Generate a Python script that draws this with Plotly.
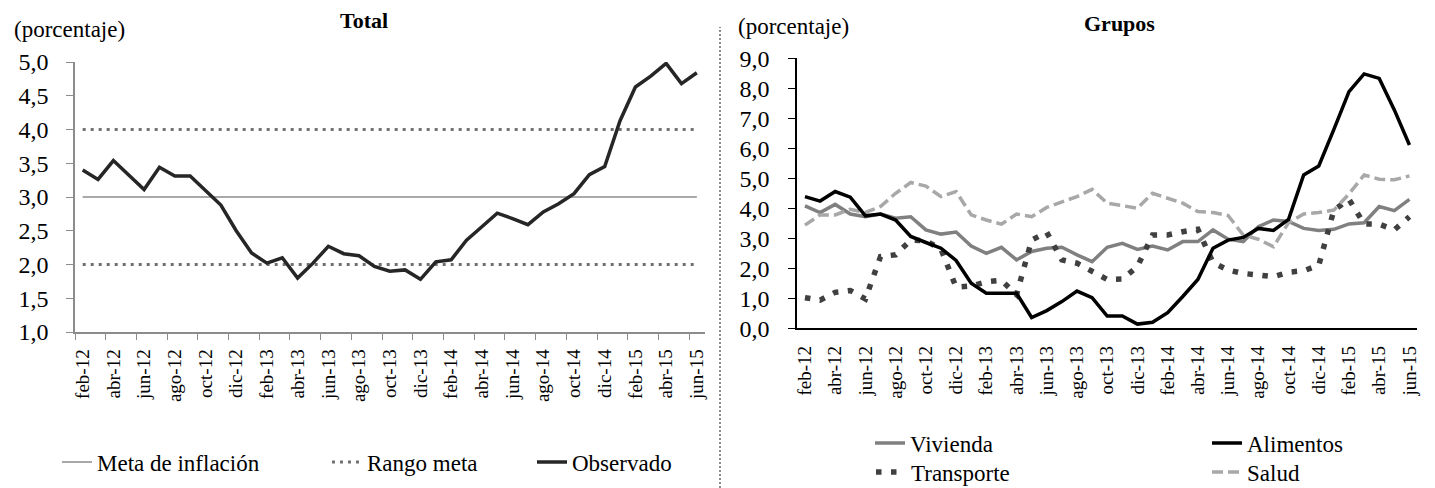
import plotly.graph_objects as go

# categorias (meses)
meses = ["feb-12", "mar-12", "abr-12", "may-12", "jun-12", "jul-12", "ago-12", "sep-12",
         "oct-12", "nov-12", "dic-12", "ene-13", "feb-13", "mar-13", "abr-13", "may-13",
         "jun-13", "jul-13", "ago-13", "sep-13", "oct-13", "nov-13", "dic-13", "ene-14",
         "feb-14", "mar-14", "abr-14", "may-14", "jun-14", "jul-14", "ago-14", "sep-14",
         "oct-14", "nov-14", "dic-14", "ene-15", "feb-15", "mar-15", "abr-15", "may-15",
         "jun-15"]

# Total
observado = [3.40, 3.26, 3.54, 3.33, 3.11, 3.44, 3.31, 3.31, 3.10, 2.88, 2.50, 2.17, 2.02,
             2.10, 1.80, 2.02, 2.27, 2.16, 2.13, 1.97, 1.90, 1.92, 1.78, 2.04, 2.07, 2.36,
             2.56, 2.76, 2.68, 2.59, 2.78, 2.90, 3.05, 3.33, 3.45, 4.13, 4.63, 4.79, 4.98,
             4.68, 4.84]
meta = 3.0
rango_inf = 2.0
rango_sup = 4.0

# Grupos
vivienda = [4.08, 3.86, 4.13, 3.81, 3.72, 3.81, 3.67, 3.72, 3.28, 3.14, 3.21, 2.74, 2.50,
            2.70, 2.28, 2.56, 2.67, 2.70, 2.45, 2.22, 2.70, 2.83, 2.63, 2.74, 2.61, 2.89,
            2.89, 3.28, 2.97, 2.89, 3.39, 3.61, 3.56, 3.33, 3.26, 3.30, 3.48, 3.52, 4.06,
            3.92, 4.30]
alimentos = [4.39, 4.24, 4.56, 4.37, 3.75, 3.81, 3.61, 3.06, 2.86, 2.67, 2.26, 1.50, 1.17,
             1.17, 1.17, 0.36, 0.59, 0.89, 1.24, 1.02, 0.41, 0.41, 0.14, 0.20, 0.52, 1.06,
             1.63, 2.67, 2.94, 3.03, 3.33, 3.26, 3.63, 5.11, 5.41, 6.63, 7.89, 8.48, 8.33,
             7.28, 6.11]
transporte = [1.02, 0.94, 1.20, 1.26, 0.98, 2.39, 2.45, 2.94, 2.92, 2.64, 1.37, 1.41, 1.55,
              1.60, 1.12, 2.94, 3.20, 2.28, 2.17, 1.89, 1.63, 1.64, 2.06, 3.11, 3.11, 3.22,
              3.30, 2.19, 1.94, 1.83, 1.78, 1.72, 1.87, 1.92, 2.10, 3.94, 4.30, 3.48, 3.47,
              3.28, 3.72]
salud = [3.44, 3.78, 3.78, 3.97, 3.86, 4.06, 4.50, 4.86, 4.74, 4.39, 4.56, 3.78, 3.61,
         3.47, 3.81, 3.72, 4.03, 4.20, 4.39, 4.63, 4.17, 4.09, 4.00, 4.50, 4.33, 4.17,
         3.89, 3.86, 3.76, 3.11, 2.97, 2.72, 3.52, 3.81, 3.86, 3.94, 4.48, 5.11, 4.97,
         4.95, 5.08]

# the page body has an 8px margin, so the figure is a bit smaller than the window
OFF = 8
W, H = 1435 - OFF, 488 - OFF
FONT = "Liberation Serif, 'DejaVu Serif', 'Times New Roman', serif"
n = len(meses)


def px(x):
    return (x - OFF) / W


def py(y):
    return 1 - (y - OFF) / H


fig = go.Figure()

# --- panel izquierdo ---
fig.add_trace(go.Scatter(x=meses, y=[meta] * n, mode="lines", name="Meta de inflación",
                         line=dict(color="#8c8c8c", width=1.5), legend="legend",
                         xaxis="x", yaxis="y"))
fig.add_trace(go.Scatter(x=meses, y=[rango_sup] * n, mode="lines", name="Rango meta",
                         line=dict(color="#707070", width=3, dash="3px,5px"),
                         legend="legend2", legendgroup="rango", xaxis="x", yaxis="y"))
fig.add_trace(go.Scatter(x=meses, y=[rango_inf] * n, mode="lines", name="Rango meta",
                         line=dict(color="#707070", width=3, dash="3px,5px"),
                         legend="legend2", legendgroup="rango", showlegend=False,
                         xaxis="x", yaxis="y"))
fig.add_trace(go.Scatter(x=meses, y=observado, mode="lines", name="Observado",
                         line=dict(color="#262626", width=3.5), legend="legend3",
                         xaxis="x", yaxis="y"))

# --- panel derecho ---
fig.add_trace(go.Scatter(x=meses, y=vivienda, mode="lines", name="Vivienda",
                         line=dict(color="#808080", width=3.5), legend="legend4",
                         xaxis="x2", yaxis="y2"))
fig.add_trace(go.Scatter(x=meses, y=transporte, mode="lines", name="Transporte",
                         line=dict(color="#404040", width=5.5, dash="5.5px,9.5px"),
                         legend="legend6", xaxis="x2", yaxis="y2"))
fig.add_trace(go.Scatter(x=meses, y=salud, mode="lines", name="Salud",
                         line=dict(color="#a8a8a8", width=3.5, dash="11px,5px"),
                         legend="legend7", xaxis="x2", yaxis="y2"))
fig.add_trace(go.Scatter(x=meses, y=alimentos, mode="lines", name="Alimentos",
                         line=dict(color="#000000", width=3.5), legend="legend5",
                         xaxis="x2", yaxis="y2"))


def leg(x_text, y_px):
    return dict(x=px(x_text - 40), y=py(y_px), xanchor="left", yanchor="middle",
                orientation="h", bgcolor="rgba(0,0,0,0)", borderwidth=0,
                font=dict(family=FONT, size=23, color="black"))


xcommon = dict(type="category", categoryorder="array", categoryarray=meses,
               range=[-0.5, n - 0.5], tickmode="linear", tick0=0, dtick=2,
               tickangle=-90, tickfont=dict(family=FONT, size=19, color="black"),
               showgrid=False, zeroline=False, showline=True, automargin=False)
ycommon = dict(showgrid=False, zeroline=False, showline=True, ticks="outside", ticklen=7,
               tickformat=".1f", tickfont=dict(family=FONT, size=24, color="black"),
               automargin=False)

fig.update_layout(
    width=W, height=H,
    margin=dict(l=0, r=0, t=0, b=0, autoexpand=False),
    paper_bgcolor="white", plot_bgcolor="white",
    separators=",.",
    font=dict(family=FONT, color="black"),
    xaxis=dict(xcommon, domain=[px(75), px(704.5)], anchor="y",
               linecolor="#8c8c8c", linewidth=1.5, ticks="outside", ticklen=6,
               tickcolor="#8c8c8c", tickson="boundaries", ticklabelstandoff=8),
    yaxis=dict(ycommon, domain=[py(332), py(62)], anchor="x", range=[1, 5],
               dtick=0.5, linecolor="#8c8c8c", linewidth=1.5, tickcolor="#8c8c8c",
               ticklabelstandoff=13),
    xaxis2=dict(xcommon, domain=[px(797.4), px(1417)], anchor="y2",
                linecolor="black", linewidth=2, ticks="", ticklabelstandoff=8),
    yaxis2=dict(ycommon, domain=[py(328.3), py(58.3)], anchor="x2", range=[0, 9],
                dtick=1, linecolor="black", linewidth=2, tickcolor="black",
                ticklabelstandoff=14),
    legend=leg(97, 462),
    legend2=leg(367, 462),
    legend3=leg(572, 462),
    legend4=leg(910, 443),
    legend5=leg(1247, 443),
    legend6=leg(911, 472),
    legend7=leg(1247, 472),
    showlegend=True,
)

ann_font = dict(family=FONT, size=23, color="black")
fig.add_annotation(text="(porcentaje)", x=px(12), y=py(30), xref="paper", yref="paper",
                   xanchor="left", yanchor="middle", showarrow=False, font=ann_font)
fig.add_annotation(text="(porcentaje)", x=px(736), y=py(27), xref="paper", yref="paper",
                   xanchor="left", yanchor="middle", showarrow=False, font=ann_font)
fig.add_annotation(text="<b>Total</b>", x=px(364), y=py(20), xref="paper", yref="paper",
                   xanchor="center", yanchor="middle", showarrow=False,
                   font=dict(family=FONT, size=22, color="black"))
fig.add_annotation(text="<b>Grupos</b>", x=px(1119), y=py(23), xref="paper", yref="paper",
                   xanchor="center", yanchor="middle", showarrow=False,
                   font=dict(family=FONT, size=22, color="black"))

# separador vertical entre paneles
fig.add_shape(type="line", xref="paper", yref="paper", x0=px(720), x1=px(720),
              y0=0, y1=py(27), line=dict(color="#8a8a8a", width=2, dash="2px,2px"))

fig.write_html("out.html")
